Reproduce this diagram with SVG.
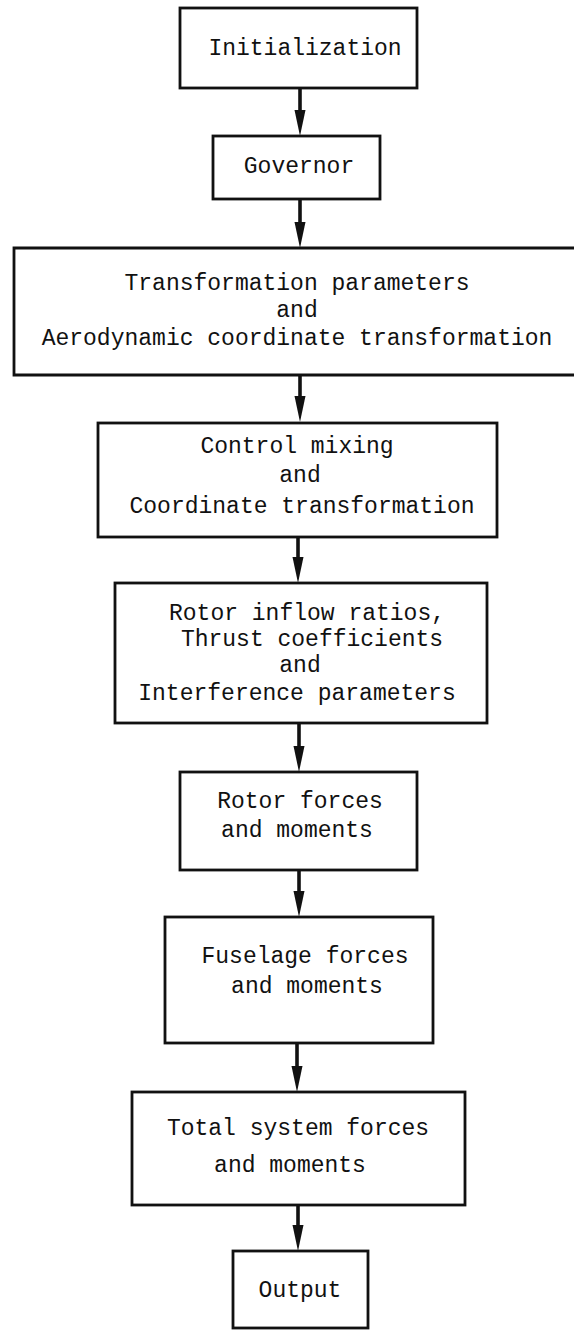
<svg xmlns="http://www.w3.org/2000/svg" width="574" height="1330" viewBox="0 0 574 1330">
<defs>
<style>
.box{fill:none;stroke:#111;stroke-width:2.8}
.t{font-family:"Liberation Mono","DejaVu Sans Mono",monospace;font-size:23px;fill:#111;text-anchor:middle}
.c{stroke:#111;stroke-width:3.6;fill:none}
.h{fill:#111}
</style>
</defs>
<rect width="574" height="1330" fill="#fff"/>
<g id="connectors">
<line class="c" x1="300" y1="88" x2="300" y2="111"/><path class="h" d="M294.5,110 L305.5,110 L300,136 Z"/>
<line class="c" x1="300" y1="199" x2="300" y2="223"/><path class="h" d="M294.5,222 L305.5,222 L300,248 Z"/>
<line class="c" x1="300" y1="375" x2="300" y2="397"/><path class="h" d="M294.5,396 L305.5,396 L300,422 Z"/>
<line class="c" x1="298" y1="537" x2="298" y2="558"/><path class="h" d="M292.5,557 L303.5,557 L298,583 Z"/>
<line class="c" x1="299" y1="723" x2="299" y2="747"/><path class="h" d="M293.5,746 L304.5,746 L299,772 Z"/>
<line class="c" x1="299" y1="870" x2="299" y2="892"/><path class="h" d="M293.5,891 L304.5,891 L299,917 Z"/>
<line class="c" x1="297" y1="1043" x2="297" y2="1067"/><path class="h" d="M291.5,1066 L302.5,1066 L297,1092 Z"/>
<line class="c" x1="298" y1="1205" x2="298" y2="1226"/><path class="h" d="M292.5,1225 L303.5,1225 L298,1251 Z"/>
</g>
<g id="initialization">
<rect class="box" x="180" y="8" width="237" height="80"/>
<text class="t" x="305" y="55">Initialization</text>
</g>
<g id="governor">
<rect class="box" x="213" y="136" width="167" height="63"/>
<text class="t" x="299" y="173">Governor</text>
</g>
<g id="transformation">
<path class="box" d="M574,248 H14 V375 H574"/>
<text class="t" x="297" y="290">Transformation parameters</text>
<text class="t" x="297" y="317">and</text>
<text class="t" x="297" y="345">Aerodynamic coordinate transformation</text>
</g>
<g id="control">
<rect class="box" x="98" y="423" width="399" height="114"/>
<text class="t" x="297" y="453">Control mixing</text>
<text class="t" x="300" y="482">and</text>
<text class="t" x="302" y="513">Coordinate transformation</text>
</g>
<g id="inflow">
<rect class="box" x="115" y="583" width="372" height="140"/>
<text class="t" x="307" y="620">Rotor inflow ratios,</text>
<text class="t" x="312" y="646">Thrust coefficients</text>
<text class="t" x="300" y="672">and</text>
<text class="t" x="297" y="700">Interference parameters</text>
</g>
<g id="rotor">
<rect class="box" x="180" y="772" width="237" height="98"/>
<text class="t" x="300" y="808">Rotor forces</text>
<text class="t" x="297" y="837">and moments</text>
</g>
<g id="fuselage">
<rect class="box" x="165" y="917" width="268" height="126"/>
<text class="t" x="305" y="963">Fuselage forces</text>
<text class="t" x="307" y="993">and moments</text>
</g>
<g id="total">
<rect class="box" x="132" y="1092" width="333" height="113"/>
<text class="t" x="298" y="1135">Total system forces</text>
<text class="t" x="290" y="1172">and moments</text>
</g>
<g id="output">
<rect class="box" x="233" y="1251" width="135" height="77"/>
<text class="t" x="300" y="1297">Output</text>
</g>
</svg>
